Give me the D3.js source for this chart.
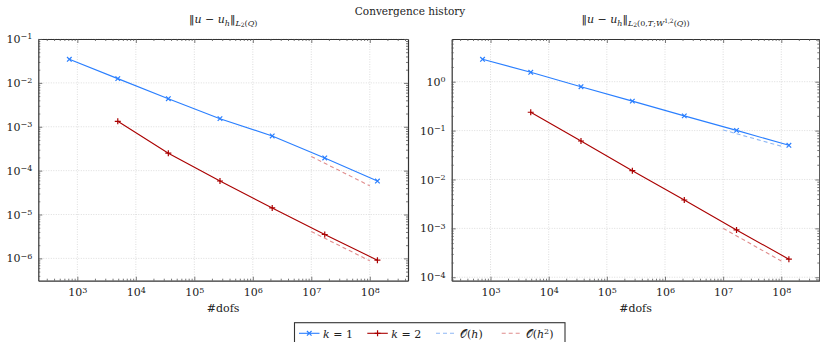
<!DOCTYPE html>
<html>
<head>
<meta charset="utf-8">
<script src="https://cdn.jsdelivr.net/npm/d3@7"></script>
<style>
  body { margin: 0; background: #fff; }
  svg, svg text { font-family: "DejaVu Serif", serif; }
  .axis path { stroke: #333; stroke-width: 1.2; }
  .axis line { stroke: #555; stroke-width: 0.8; }
  .axis text { font-size: 11px; fill: #222; font-family: "DejaVu Serif", serif; }
</style>
</head>
<body>
<div id="chart"></div>
<script>
// dofs per refinement level
const dofsK1 = [729, 4913, 35937, 274625, 2146689, 16974593, 135005697];
const dofsK2 = [4913, 35937, 274625, 2146689, 16974593, 135005697];

// ||u - u_h||_{L2(Q)}
const l2K1 = [0.0345, 0.0125, 0.00437, 0.00153, 0.000617, 0.000195, 0.000058];
const l2K2 = [0.00133, 0.00025, 0.000058, 0.0000141, 0.0000035, 0.00000091];

// ||u - u_h||_{L2(0,T;W^{1,2}(Q))}
const h1K1 = [2.87, 1.56, 0.79, 0.40, 0.20, 0.101, 0.050];
const h1K2 = [0.237, 0.0612, 0.0151, 0.0038, 0.00093, 0.000234];

// reference slopes
const refDofs = [1e7, 1e8];
const refL2a = [2.1e-4, 4.5e-5];
const refL2b = [4.1e-6, 8.8e-7];
const refH1a = [0.103, 0.0478];
const refH1b = [1.0e-3, 2.15e-4];

const xMajors = [1e3, 1e4, 1e5, 1e6, 1e7, 1e8];
const yMajorsL = [1e-1, 1e-2, 1e-3, 1e-4, 1e-5, 1e-6];
const yMajorsR = [1e0, 1e-1, 1e-2, 1e-3, 1e-4];

const blue = '#2a7fff', red = '#aa0000';
const blueDash = '#8fb8f5', redDash = '#e08c8c';
const serif = '"DejaVu Serif", serif';

const W = 820, H = 342;
const svg = d3.select('#chart').append('svg')
  .attr('width', W).attr('height', H);

svg.append('text')
  .attr('x', 410).attr('y', 15)
  .attr('text-anchor', 'middle')
  .attr('font-size', '10.5px').attr('fill', '#222')
  .text('Convergence history');

function minorsBetween(lo, hi) {
  let out = [];
  for (let e = Math.floor(Math.log10(lo)); e <= Math.ceil(Math.log10(hi)); e++) {
    for (let k = 2; k <= 9; k++) {
      let v = k * Math.pow(10, e);
      if (v > lo && v < hi) out.push(v);
    }
  }
  return out;
}

function powLabel(sel) {
  sel.attr('font-family', serif).attr('font-size', 11);
  sel.selectAll('.tick text').each(function(d) {
    let t = d3.select(this);
    let e = Math.round(Math.log10(d));
    t.text(null);
    t.append('tspan').text('10');
    t.append('tspan').attr('dy', '-0.45em').attr('font-size', '8px')
      .text(e < 0 ? '\u2212' + (-e) : e);
  });
}

function mathTitle(g, cx, parts) {
  let t = g.append('text').attr('x', cx).attr('y', 23)
    .attr('text-anchor', 'middle').attr('font-size', '11px').attr('fill', '#222');
  parts.forEach(p => {
    let s = t.append('tspan').text(p.t);
    if (p.i) s.attr('font-style', 'italic');
    if (p.dy) s.attr('dy', p.dy);
    if (p.fs) s.attr('font-size', p.fs);
    if (p.t === '\u2016') s.attr('font-family', '"DejaVu Sans", sans-serif');
  });
}

function drawPanel(opt) {
  const x = d3.scaleLog().domain([215, 4.5e8]).range(opt.xr);
  const y = d3.scaleLog().domain(opt.yd).range([280.7, 39]);
  const g = svg.append('g');
  const [x0, x1] = opt.xr;

  // grid
  g.selectAll('.gx').data(xMajors).enter().append('line')
    .attr('x1', d => x(d)).attr('x2', d => x(d))
    .attr('y1', 39).attr('y2', 280.7)
    .attr('stroke', '#cfcfcf').attr('stroke-width', 0.7).attr('stroke-dasharray', '1,1.5');
  g.selectAll('.gy').data(opt.yMajors).enter().append('line')
    .attr('x1', x0).attr('x2', x1)
    .attr('y1', d => y(d)).attr('y2', d => y(d))
    .attr('stroke', '#cfcfcf').attr('stroke-width', 0.7).attr('stroke-dasharray', '1,1.5');

  const xMin = minorsBetween(215, 4.5e8);
  const yMin = minorsBetween(opt.yd[0], opt.yd[1]);

  // bottom axis
  g.append('g').attr('class', 'axis').attr('transform', 'translate(0,280.7)')
    .call(d3.axisBottom(x).tickValues(xMajors).tickSizeInner(-4).tickSizeOuter(0).tickPadding(8))
    .call(powLabel);
  g.append('g').attr('class', 'axis').attr('transform', 'translate(0,280.7)')
    .call(d3.axisBottom(x).tickValues(xMin).tickSizeInner(-2).tickSizeOuter(0).tickFormat(''))
    .select('.domain').remove();
  // top axis
  g.append('g').attr('class', 'axis').attr('transform', 'translate(0,39)')
    .call(d3.axisTop(x).tickValues(xMajors).tickSizeInner(-4).tickSizeOuter(0).tickFormat(''));
  g.append('g').attr('class', 'axis').attr('transform', 'translate(0,39)')
    .call(d3.axisTop(x).tickValues(xMin).tickSizeInner(-2).tickSizeOuter(0).tickFormat(''))
    .select('.domain').remove();
  // left axis
  g.append('g').attr('class', 'axis').attr('transform', `translate(${x0},0)`)
    .call(d3.axisLeft(y).tickValues(opt.yMajors).tickSizeInner(-4).tickSizeOuter(0).tickPadding(6))
    .call(powLabel);
  g.append('g').attr('class', 'axis').attr('transform', `translate(${x0},0)`)
    .call(d3.axisLeft(y).tickValues(yMin).tickSizeInner(-2).tickSizeOuter(0).tickFormat(''))
    .select('.domain').remove();
  // right axis
  g.append('g').attr('class', 'axis').attr('transform', `translate(${x1},0)`)
    .call(d3.axisRight(y).tickValues(opt.yMajors).tickSizeInner(-4).tickSizeOuter(0).tickFormat(''));
  g.append('g').attr('class', 'axis').attr('transform', `translate(${x1},0)`)
    .call(d3.axisRight(y).tickValues(yMin).tickSizeInner(-2).tickSizeOuter(0).tickFormat(''))
    .select('.domain').remove();

  // x label
  g.append('text').attr('x', (x0 + x1) / 2).attr('y', 312)
    .attr('text-anchor', 'middle').attr('font-size', '11px').attr('fill', '#222')
    .attr('font-family', serif)
    .text('#dofs');

  const line = d3.line().x(d => x(d[0])).y(d => y(d[1]));

  // reference lines
  opt.refs.forEach(r => {
    g.append('path').datum(d3.zip(refDofs, r.v))
      .attr('d', line).attr('fill', 'none')
      .attr('stroke', r.c).attr('stroke-width', 1.1).attr('stroke-dasharray', '4,3');
  });

  // series
  const series = [
    { dofs: dofsK1, v: opt.k1, c: blue, m: 'x' },
    { dofs: dofsK2, v: opt.k2, c: red, m: '+' }
  ];
  series.forEach(s => {
    const pts = d3.zip(s.dofs, s.v);
    g.append('path').datum(pts).attr('d', line)
      .attr('fill', 'none').attr('stroke', s.c).attr('stroke-width', 1.1);
    g.selectAll(null).data(pts).enter().append('path')
      .attr('transform', d => `translate(${x(d[0])},${y(d[1])})`)
      .attr('d', s.m === 'x' ? 'M-2.3,-2.3L2.3,2.3M-2.3,2.3L2.3,-2.3' : 'M-3,0H3M0,-3V3')
      .attr('stroke', s.c).attr('stroke-width', 1.2).attr('fill', 'none');
  });

  mathTitle(g, (x0 + x1) / 2, opt.title);
}

drawPanel({
  xr: [38.3, 408],
  yd: [3.1e-7, 0.1],
  yMajors: yMajorsL,
  k1: l2K1, k2: l2K2,
  refs: [{ v: refL2a, c: redDash }, { v: refL2b, c: redDash }],
  title: [
    { t: '\u2016' }, { t: 'u', i: 1 }, { t: ' \u2212 ' }, { t: 'u', i: 1 },
    { t: 'h', i: 1, dy: '2.5', fs: '8px' }, { t: '\u2016', dy: '-2.5' },
    { t: 'L', i: 1, dy: '3', fs: '8px' }, { t: '2', fs: '6px', dy: '1' },
    { t: '(', fs: '8px', dy: '-1' }, { t: 'Q', i: 1, fs: '8px' }, { t: ')', fs: '8px' }
  ]
});

drawPanel({
  xr: [451.7, 819.3],
  yd: [8.5e-5, 7.47],
  yMajors: yMajorsR,
  k1: h1K1, k2: h1K2,
  refs: [{ v: refH1a, c: blueDash }, { v: refH1b, c: redDash }],
  title: [
    { t: '\u2016' }, { t: 'u', i: 1 }, { t: ' \u2212 ' }, { t: 'u', i: 1 },
    { t: 'h', i: 1, dy: '2.5', fs: '8px' }, { t: '\u2016', dy: '-2.5' },
    { t: 'L', i: 1, dy: '3', fs: '8px' }, { t: '2', fs: '6px', dy: '1' },
    { t: '(0,', fs: '8px', dy: '-1' }, { t: 'T', i: 1, fs: '8px' }, { t: ';', fs: '8px' },
    { t: 'W', i: 1, fs: '8px' }, { t: '1,2', fs: '6px', dy: '-3.5' },
    { t: '(', fs: '8px', dy: '3.5' }, { t: 'Q', i: 1, fs: '8px' }, { t: '))', fs: '8px' }
  ]
});

// legend
const legend = svg.append('g');
legend.append('rect').attr('x', 294.5).attr('y', 322.7).attr('width', 270.5).attr('height', 30)
  .attr('fill', '#fff').attr('stroke', '#333').attr('stroke-width', 1.1);
const legendItems = [
  { x: 299, c: blue, dash: null, m: 'x', label: [{ t: 'k', i: 1 }, { t: ' = 1' }] },
  { x: 367.3, c: red, dash: null, m: '+', label: [{ t: 'k', i: 1 }, { t: ' = 2' }] },
  { x: 436, c: blueDash, dash: '4,3', m: null, label: [{ t: '\ud835\udcaa' }, { t: '(' }, { t: 'h', i: 1 }, { t: ')' }] },
  { x: 501.7, c: redDash, dash: '4,3', m: null, label: [{ t: '\ud835\udcaa' }, { t: '(' }, { t: 'h', i: 1 }, { t: '2', fs: '8px', dy: '-4' }, { t: ')', dy: '4' }] }
];
legendItems.forEach(it => {
  legend.append('line').attr('x1', it.x).attr('x2', it.x + 20.5)
    .attr('y1', 333.3).attr('y2', 333.3)
    .attr('stroke', it.c).attr('stroke-width', 1.1)
    .attr('stroke-dasharray', it.dash);
  if (it.m) {
    legend.append('path')
      .attr('transform', `translate(${it.x + 10.25},333.3)`)
      .attr('d', it.m === 'x' ? 'M-2.3,-2.3L2.3,2.3M-2.3,2.3L2.3,-2.3' : 'M-3,0H3M0,-3V3')
      .attr('stroke', it.c).attr('stroke-width', 1.2);
  }
  const t = legend.append('text').attr('x', it.x + 24).attr('y', 337.5)
    .attr('font-size', '11px').attr('fill', '#222').attr('font-family', serif);
  it.label.forEach(p => {
    const s = t.append('tspan').text(p.t);
    if (p.i) s.attr('font-style', 'italic');
    if (p.fs) s.attr('font-size', p.fs);
    if (p.dy) s.attr('dy', p.dy);
  });
});
</script>
</body>
</html>
